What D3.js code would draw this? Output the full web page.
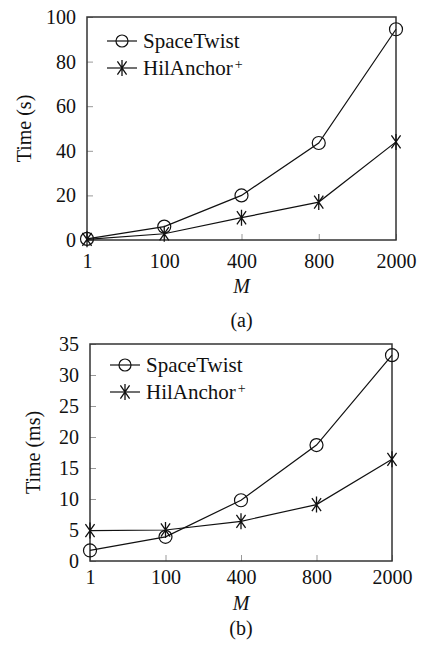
<!DOCTYPE html>
<html>
<head>
<meta charset="utf-8">
<script src="https://cdn.jsdelivr.net/npm/d3@7"></script>
<style>
  body { margin: 0; background: #fff; }
  text { font-family: "Liberation Serif", "DejaVu Serif", serif; fill: #111; }
</style>
</head>
<body>
<div id="chart"></div>
<script>
// Data
var categories = ["1", "100", "400", "800", "2000"];
var seriesNames = ["SpaceTwist", "HilAnchor"];

// (a) Time in seconds
var spaceTwistA = [0.5, 6, 20, 43.5, 94.5];
var hilAnchorA = [0.3, 2.8, 10, 17, 44];
var yTicksA = [0, 20, 40, 60, 80, 100];

// (b) Time in ms
var spaceTwistB = [1.7, 3.9, 9.8, 18.7, 33.2];
var hilAnchorB = [4.9, 5.0, 6.4, 9.1, 16.4];
var yTicksB = [0, 5, 10, 15, 20, 25, 30, 35];

var svg = d3.select("#chart").append("svg")
    .attr("width", 427)
    .attr("height", 645);

// asterisk marker (vertical + two diagonals)
function asterisk(r) {
    var a = 55 * Math.PI / 180;
    var dx = r * Math.cos(a), dy = r * Math.sin(a);
    return "M0," + (-r) + "L0," + r +
        "M" + (-dx) + "," + (-dy) + "L" + dx + "," + dy +
        "M" + (-dx) + "," + dy + "L" + dx + "," + (-dy);
}

function drawChart(opt) {
    var g = svg.append("g");

    var x = d3.scalePoint()
        .domain(categories)
        .range([opt.left, opt.right]);

    var y = d3.scaleLinear()
        .domain([0, opt.yMax])
        .range([opt.bottom, opt.top]);

    // y axis
    var yAxis = g.append("g")
        .attr("transform", "translate(" + opt.left + ",0)")
        .call(d3.axisLeft(y).tickValues(opt.yTicks).tickSize(-6).tickPadding(11));
    yAxis.select(".domain").remove();
    yAxis.selectAll(".tick line").attr("stroke", "#999");
    yAxis.selectAll("text").attr("font-size", 20);

    // x axis
    var xAxis = g.append("g")
        .attr("transform", "translate(0," + opt.bottom + ")")
        .call(d3.axisBottom(x).tickSize(-6).tickPadding(opt.xPad));
    xAxis.select(".domain").remove();
    xAxis.selectAll(".tick line").attr("stroke", "#999");
    xAxis.selectAll("text").attr("font-size", 20);

    // frame
    g.append("rect")
        .attr("x", opt.left)
        .attr("y", opt.top)
        .attr("width", opt.right - opt.left)
        .attr("height", opt.bottom - opt.top)
        .attr("fill", "none")
        .attr("stroke", "#333")
        .attr("stroke-width", 1.5);

    var line = d3.line()
        .x(function (d, i) { return x(categories[i]); })
        .y(function (d) { return y(d); });

    // series lines
    [opt.s1, opt.s2].forEach(function (s) {
        g.append("path")
            .datum(s)
            .attr("d", line)
            .attr("fill", "none")
            .attr("stroke", "#111")
            .attr("stroke-width", 1.2);
    });

    // circles
    g.selectAll("circle.pt")
        .data(opt.s1)
        .enter()
        .append("circle")
        .attr("class", "pt")
        .attr("cx", function (d, i) { return x(categories[i]); })
        .attr("cy", function (d) { return y(d); })
        .attr("r", 6.5)
        .attr("fill", "none")
        .attr("stroke", "#111")
        .attr("stroke-width", 1.2);

    // asterisks
    g.selectAll("path.star")
        .data(opt.s2)
        .enter()
        .append("path")
        .attr("class", "star")
        .attr("transform", function (d, i) { return "translate(" + x(categories[i]) + "," + y(d) + ")"; })
        .attr("d", asterisk(8))
        .attr("fill", "none")
        .attr("stroke", "#111")
        .attr("stroke-width", 1.3);

    // legend
    var lg = g.append("g")
        .attr("transform", "translate(" + (opt.left + 20) + "," + opt.legendY + ")");

    lg.append("line").attr("x1", 0).attr("x2", 30).attr("y1", 0).attr("y2", 0)
        .attr("stroke", "#111").attr("stroke-width", 1.2);
    lg.append("circle").attr("cx", 15).attr("cy", 0).attr("r", 6)
        .attr("fill", "none").attr("stroke", "#111").attr("stroke-width", 1.2);
    lg.append("text").attr("x", 36).attr("y", 0).attr("dy", "0.35em")
        .attr("font-size", 21).text(seriesNames[0]);

    lg.append("line").attr("x1", 0).attr("x2", 30).attr("y1", 27).attr("y2", 27)
        .attr("stroke", "#111").attr("stroke-width", 1.2);
    lg.append("path").attr("transform", "translate(15,27)").attr("d", asterisk(8))
        .attr("fill", "none").attr("stroke", "#111").attr("stroke-width", 1.3);
    var t2 = lg.append("text").attr("x", 36).attr("y", 27).attr("dy", "0.35em")
        .attr("font-size", 21);
    t2.append("tspan").text(seriesNames[1]);
    t2.append("tspan").attr("dy", "-0.45em").attr("dx", 2).attr("font-size", 14).text("+");

    // y label
    g.append("text")
        .attr("transform", "translate(" + opt.yLabelX + "," + ((opt.top + opt.bottom) / 2) + ") rotate(-90)")
        .attr("text-anchor", "middle")
        .attr("font-size", 20)
        .text(opt.yLabel);

    // x label
    g.append("text")
        .attr("x", (opt.left + opt.right) / 2)
        .attr("y", opt.bottom + opt.mOff)
        .attr("text-anchor", "middle")
        .attr("font-size", 20)
        .attr("font-style", "italic")
        .text("M");

    // caption
    g.append("text")
        .attr("x", (opt.left + opt.right) / 2)
        .attr("y", opt.bottom + opt.capOff)
        .attr("text-anchor", "middle")
        .attr("font-size", 20)
        .text(opt.caption);
}

drawChart({
    left: 87, right: 396, top: 17, bottom: 240,
    yMax: 100, yTicks: yTicksA,
    s1: spaceTwistA, s2: hilAnchorA,
    legendY: 41, xPad: 14, mOff: 53, capOff: 87,
    yLabel: "Time (s)", yLabelX: 31, caption: "(a)"
});

drawChart({
    left: 90, right: 392, top: 344, bottom: 561,
    yMax: 35, yTicks: yTicksB,
    s1: spaceTwistB, s2: hilAnchorB,
    legendY: 365, xPad: 9, mOff: 49, capOff: 74,
    yLabel: "Time (ms)", yLabelX: 40, caption: "(b)"
});
</script>
</body>
</html>
